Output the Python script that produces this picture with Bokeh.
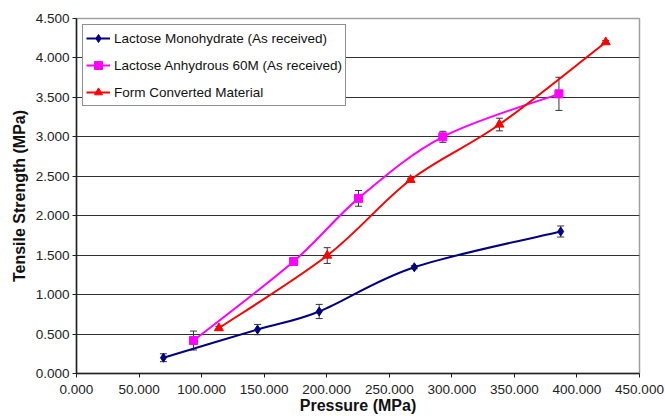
from bokeh.plotting import figure
from bokeh.models import (ColumnDataSource, Whisker, TeeHead, Legend, LegendItem,
                          NumeralTickFormatter, FixedTicker, Range1d)
from bokeh.embed import file_html
from bokeh.resources import INLINE

# ---- data ----
mono_x = [69.5, 144.7, 194.0, 270.0, 387.0]
mono_y = [0.20, 0.557, 0.786, 1.347, 1.80]
mono_err = [0.05, 0.065, 0.09, 0.02, 0.07]

anh_x = [93.5, 173.5, 225.4, 292.8, 385.6]
anh_y = [0.418, 1.42, 2.22, 3.00, 3.545]
anh_err = [0.12, 0.02, 0.10, 0.07, 0.21]

fc_x = [113.8, 200.4, 267.0, 338.0, 423.0]
fc_y = [0.575, 1.495, 2.455, 3.156, 4.20]
fc_err = [0.02, 0.10, 0.02, 0.08, 0.02]

labels = ["Lactose Monohydrate (As received)",
          "Lactose Anhydrous 60M (As received)",
          "Form Converted Material"]
colors = ["#000080", "#FF00FF", "#FF0000"]
markers = ["diamond", "square", "triangle"]
marker_sizes = [9, 8, 9]

x_ticks = [0, 50, 100, 150, 200, 250, 300, 350, 400, 450]
y_ticks = [0, 0.5, 1.0, 1.5, 2.0, 2.5, 3.0, 3.5, 4.0, 4.5]

FONT = "Liberation Sans"

p = figure(width=665, height=416, output_backend="svg", toolbar_location=None,
           x_range=Range1d(0, 450), y_range=Range1d(0, 4.5),
           min_border_left=76, min_border_right=26, min_border_top=18,
           min_border_bottom=43)
p.outline_line_color = "#a0a0a0"
p.outline_line_width = 1.5
p.background_fill_color = "white"
p.border_fill_color = "white"

p.xgrid.grid_line_color = None
p.ygrid.grid_line_color = "#303030"
p.ygrid.grid_line_width = 1
p.ygrid.ticker = FixedTicker(ticks=y_ticks)

for ax in (p.xaxis[0], p.yaxis[0]):
    ax.formatter = NumeralTickFormatter(format="0.000")
    ax.major_tick_out = 4
    ax.major_tick_in = 0
    ax.minor_tick_line_color = None
    ax.axis_line_color = "#202020"
    ax.axis_line_width = 1.5
    ax.major_tick_line_color = "#202020"
    ax.major_label_text_font = FONT
    ax.major_label_text_font_size = "13.5px"
    ax.major_label_text_color = "#222222"
    ax.axis_label_text_font = FONT
    ax.axis_label_text_font_style = "bold"
    ax.axis_label_text_font_size = "16px"
    ax.axis_label_text_color = "#111111"

p.xaxis.ticker = FixedTicker(ticks=x_ticks)
p.yaxis.ticker = FixedTicker(ticks=y_ticks)
p.xaxis.axis_label = "Pressure (MPa)"
p.yaxis.axis_label = "Tensile Strength (MPa)"
p.xaxis.major_label_standoff = 7
p.xaxis.axis_label_standoff = 0
p.yaxis.major_label_standoff = 3
p.yaxis.axis_label_standoff = 5


def smooth_source(xs, ys):
    """Bezier control points (Catmull-Rom style, like spreadsheet smoothing)."""
    n = len(xs)
    d = dict(x0=[], y0=[], x1=[], y1=[], cx0=[], cy0=[], cx1=[], cy1=[])
    for i in range(n - 1):
        xp, yp = (xs[i - 1], ys[i - 1]) if i > 0 else (xs[i], ys[i])
        xn, yn = (xs[i + 2], ys[i + 2]) if i + 2 < n else (xs[i + 1], ys[i + 1])
        d["x0"].append(xs[i]); d["y0"].append(ys[i])
        d["x1"].append(xs[i + 1]); d["y1"].append(ys[i + 1])
        d["cx0"].append(xs[i] + (xs[i + 1] - xp) / 6.0)
        d["cy0"].append(ys[i] + (ys[i + 1] - yp) / 6.0)
        d["cx1"].append(xs[i + 1] - (xn - xs[i]) / 6.0)
        d["cy1"].append(ys[i + 1] - (yn - ys[i]) / 6.0)
    return ColumnDataSource(d)


series = [(mono_x, mono_y, mono_err), (anh_x, anh_y, anh_err), (fc_x, fc_y, fc_err)]
items = []
for (xs, ys, es), lab, col, mk, ms in zip(series, labels, colors, markers, marker_sizes):
    src = ColumnDataSource(dict(x=xs, y=ys,
                                lo=[a - b for a, b in zip(ys, es)],
                                hi=[a + b for a, b in zip(ys, es)]))
    wh = Whisker(source=src, base="x", lower="lo", upper="hi", dimension="height",
                 line_color="#333333", line_width=1,
                 upper_head=TeeHead(size=7, line_color="#333333", line_width=1),
                 lower_head=TeeHead(size=7, line_color="#333333", line_width=1))
    p.add_layout(wh)
    br = p.bezier(x0="x0", y0="y0", x1="x1", y1="y1", cx0="cx0", cy0="cy0",
                  cx1="cx1", cy1="cy1", source=smooth_source(xs, ys),
                  line_color=col, line_width=2)
    sr = p.scatter(x="x", y="y", source=src, marker=mk, size=ms,
                   fill_color=col, line_color=col)
    items.append(LegendItem(label=lab, renderers=[br, sr]))

legend = Legend(items=items, location="top_left", orientation="vertical",
                label_text_font=FONT, label_text_font_size="13.5px",
                label_text_color="#111111",
                glyph_width=24, glyph_height=20, label_height=20,
                spacing=7, padding=3, margin=6, label_standoff=4,
                border_line_color="#202020", border_line_width=1.5,
                background_fill_color="white", background_fill_alpha=1.0)
p.add_layout(legend, "center")

open("out.html", "w").write(file_html(p, INLINE))
